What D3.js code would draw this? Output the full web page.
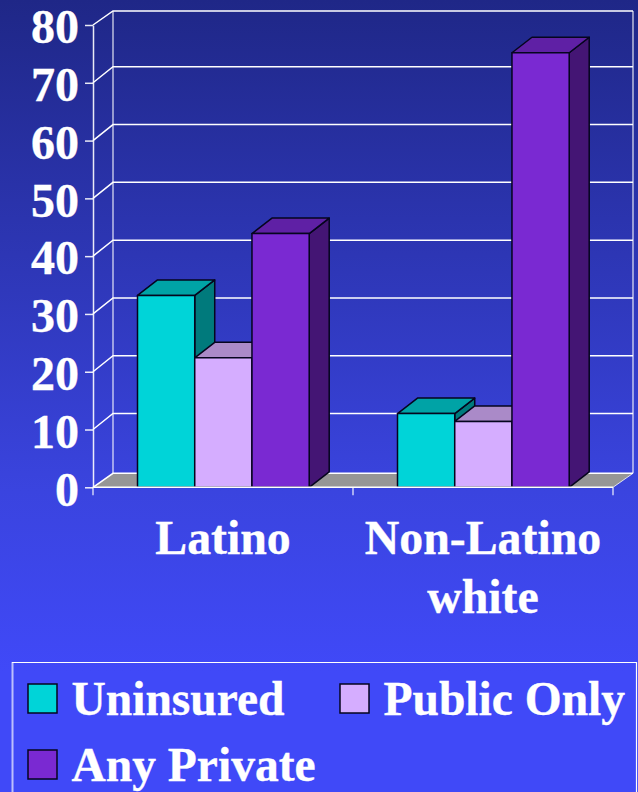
<!DOCTYPE html>
<html><head><meta charset="utf-8">
<script src="https://cdn.jsdelivr.net/npm/d3@7"></script>
<style>html,body{margin:0;padding:0;background:#4049f8;overflow:hidden}svg{display:block}
text{font-family:"Liberation Serif",serif;font-weight:bold;fill:#fff;stroke:#fff;stroke-width:0.35px}</style></head>
<body><svg id="c" width="638" height="792"></svg>
<script>
const categories = ["Latino", "Non-Latino white"];
const seriesNames = ["Uninsured", "Public Only", "Any Private"];
const uninsured = [33.2, 12.75];
const publicOnly = [22.4, 11.4];
const anyPrivate = [43.9, 75.2];
const yTicks = [0, 10, 20, 30, 40, 50, 60, 70, 80];
const seriesValues = [uninsured, publicOnly, anyPrivate];
const front = ["#00d4d8", "#d5adff", "#7a29d2"];
const topFace = ["#00a3a6", "#aa8ac8", "#5f20a5"];
const sideFace = ["#007a7c", "#8f70a8", "#441574"];

const svg = d3.select("#c");
const defs = svg.append("defs");
const g = defs.append("linearGradient").attr("id","bg").attr("x1",0).attr("y1",0).attr("x2",0).attr("y2",1);
g.append("stop").attr("offset",0).attr("stop-color","#1f2787");
g.append("stop").attr("offset",0.62).attr("stop-color","#3a44df");
g.append("stop").attr("offset",0.85).attr("stop-color","#4049f8");
g.append("stop").attr("offset",1).attr("stop-color","#4049f8");
svg.append("rect").attr("width",638).attr("height",792).attr("fill","url(#bg)");

const y = d3.scaleLinear().domain([0,80]).range([487.3,25]);
const x0 = d3.scaleBand().domain(categories).range([93,613]);
const x1 = d3.scaleBand().domain(d3.range(3)).range([44.5,216.2]);
const dx = 20, dy = 15.5;
const backY = v => (v===0||v===80) ? y(v)-14 : y(v)-16;
const pts = a => a.map(p=>p.join(",")).join(" ");
const L = 93, R = 613;

// floor
svg.append("polygon").attr("fill","#969696")
  .attr("points",pts([[L,y(0)],[L+dx,backY(0)],[R+dx,backY(0)],[R,y(0)]]));

// walls + gridlines
const grid = svg.append("g").attr("fill","none").attr("stroke","#fff");
grid.selectAll("path.g").data(yTicks).join("path").attr("class","g")
  .attr("stroke-width",1.5)
  .attr("d",d=>`M${L},${y(d)}L${L+dx},${backY(d)}L${R+dx},${backY(d)}`);
grid.append("line").attr("x1",L+dx).attr("x2",L+dx).attr("y1",backY(80)).attr("y2",backY(0)).attr("stroke-opacity",0.75).attr("stroke-width",1.4);
grid.append("line").attr("x1",R+dx).attr("x2",R+dx).attr("y1",backY(80)).attr("y2",backY(0)).attr("stroke-opacity",0.75).attr("stroke-width",1.4);
grid.append("line").attr("x1",R).attr("x2",R+dx).attr("y1",y(0)).attr("y2",backY(0)).attr("stroke-opacity",0.8);

// bars
categories.forEach((c,ci)=>{
  seriesValues.forEach((vals,si)=>{
    const xa = x0(c)+x1(si), w = x1.bandwidth(), t = y(vals[ci]), b = y(0);
    const bar = svg.append("g").attr("stroke","#05051e").attr("stroke-width",1.5).attr("stroke-linejoin","round");
    bar.append("polygon").attr("fill",sideFace[si])
      .attr("points",pts([[xa+w,t],[xa+w+dx,t-dy],[xa+w+dx,b-dy],[xa+w,b]]));
    bar.append("polygon").attr("fill",topFace[si])
      .attr("points",pts([[xa,t],[xa+dx,t-dy],[xa+w+dx,t-dy],[xa+w,t]]));
    bar.append("rect").attr("fill",front[si]).attr("x",xa).attr("y",t).attr("width",w).attr("height",b-t);
  });
});

// y axis
const yAxis = svg.append("g").attr("transform",`translate(${L},0)`)
  .call(d3.axisLeft(y).tickValues(yTicks).tickSize(8).tickPadding(6).tickSizeOuter(0));
yAxis.select(".domain").attr("stroke","#fff").attr("stroke-opacity",0.9).attr("stroke-width",1.5);
yAxis.selectAll(".tick line").attr("stroke","#fff").attr("stroke-opacity",0.9).attr("stroke-width",1.5);
yAxis.selectAll("text").attr("font-size",48).attr("fill","#fff").attr("font-family","Liberation Serif").attr("font-weight","bold").attr("dy","0.37em");

// x axis
const xAxis = svg.append("g").attr("transform",`translate(0,${y(0)})`);
xAxis.append("line").attr("x1",L).attr("x2",R).attr("stroke","#fff").attr("stroke-width",1.6);
xAxis.selectAll("line.t").data([L,(L+R)/2,R]).join("line").attr("class","t")
  .attr("x1",d=>d).attr("x2",d=>d).attr("y1",0).attr("y2",8).attr("stroke","#fff").attr("stroke-opacity",0.8).attr("stroke-width",1.4);
const catLines = [["Latino"],["Non-Latino","white"]];
categories.forEach((c,i)=>{
  catLines[i].forEach((t,j)=>{
    svg.append("text").attr("x",x0(c)+x0.bandwidth()/2).attr("y",554+j*59)
      .attr("text-anchor","middle").attr("font-size",47.8).text(t);
  });
});

// legend
const lg = svg.append("g");
lg.append("path").attr("fill","none").attr("stroke","#fff").attr("stroke-width",1.2)
  .attr("d","M636.5,800V662.5H12");
lg.append("line").attr("x1",12.5).attr("x2",12.5).attr("y1",662).attr("y2",800).attr("stroke","#fff").attr("stroke-opacity",0.65).attr("stroke-width",2);
const legendPos = [[28,684,71.5,715],[340,684,383.5,715],[28,750,71.5,781]];
seriesNames.forEach((n,i)=>{
  const p = legendPos[i];
  lg.append("rect").attr("x",p[0]).attr("y",p[1]).attr("width",29).attr("height",29)
    .attr("fill",front[i]).attr("stroke","#05051e").attr("stroke-width",1.5);
  lg.append("text").attr("x",p[2]).attr("y",p[3]).attr("font-size",47.5).text(n);
});
</script></body></html>
